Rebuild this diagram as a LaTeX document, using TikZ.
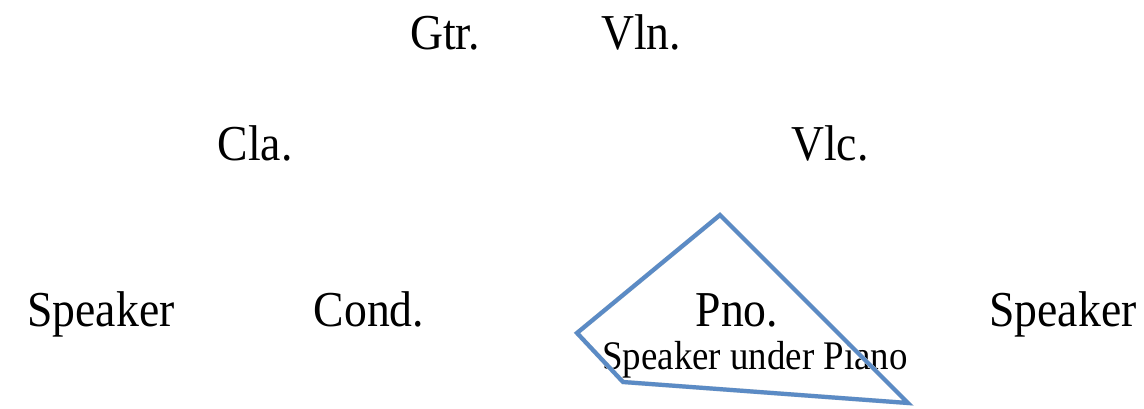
\documentclass[tikz,border=0pt]{standalone}
\usepackage{fontspec}
\setmainfont{Liberation Serif}
\usepackage{graphicx}
\usepackage{tikz}
\usetikzlibrary{positioning}
\definecolor{areablue}{HTML}{5B8BC5}
\newcommand{\talltext}[1]{\scalebox{1}[1.1]{#1}}
\tikzset{
  instname/.style={anchor=base, inner sep=0pt, font=\fontsize{26}{30}\selectfont},
  instnote/.style={anchor=base, inner sep=0pt, font=\fontsize{21}{25}\selectfont},
  pnoarea/.style={draw=areablue, line width=2.4pt, line join=miter},
  pnoshadow/.style={draw=black!12, line width=2.6pt, line join=miter}
}

\begin{document}
\begin{tikzpicture}[x=0.02cm, y=-0.02cm]
\useasboundingbox (0,0) rectangle (1144,409);
\node[instname] (gtr) at (445,50) {\talltext{Gtr.}};
\node[instname] (vln) at (641,50) {\talltext{Vln.}};
\node[instname] (cla) at (255,160) {\talltext{Cla.}};
\node[instname] (vlc) at (830,160) {\talltext{Vlc.}};
\node[instname] (spkl) at (101,326) {\talltext{Speaker}};
\node[instname] (cond) at (369,326) {\talltext{Cond.}};
\node[instname] (pno) at (737,326) {\talltext{Pno.}};
\node[instname] (spkr) at (1063,326) {\talltext{Speaker}};
\node[instnote] (spkpno) at (755,369) {\talltext{Speaker under Piano}};
% speaker area round the piano
\coordinate (areatop) at (720,215);
\coordinate (arealeft) at (577,333);
\coordinate (areabl) at (623,382);
\coordinate (areabr) at (908,403);
\draw[pnoshadow, shift={(1.5,2.5)}] (areatop) -- (arealeft) -- (areabl) -- (areabr) -- cycle;
\draw[pnoarea] (areatop) -- (arealeft) -- (areabl) -- (areabr) -- cycle;
\end{tikzpicture}
\end{document}
